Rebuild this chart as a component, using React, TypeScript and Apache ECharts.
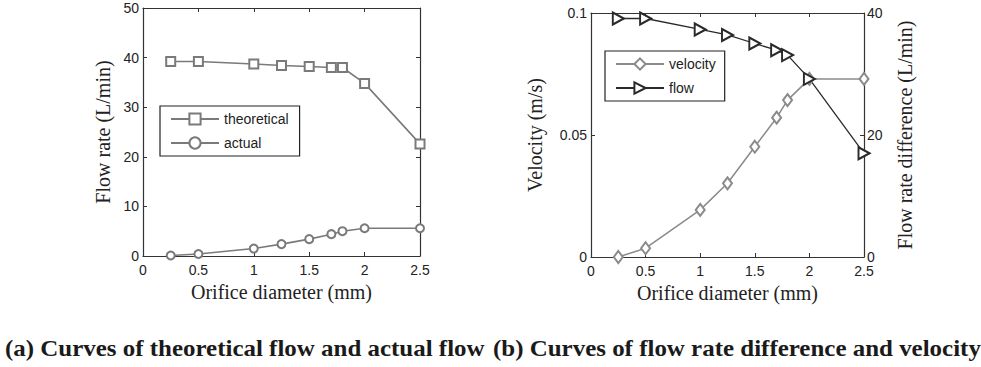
import React, { useEffect, useRef } from "react";
import * as echarts from "echarts";

const diameters = [0.25, 0.5, 1, 1.25, 1.5, 1.7, 1.8, 2, 2.5];
const theoretical = [39.2, 39.2, 38.7, 38.4, 38.2, 38.0, 38.0, 34.8, 22.6];
const actual = [0.1, 0.4, 1.5, 2.4, 3.4, 4.4, 5.0, 5.6, 5.6];
const velocity = [0.0, 0.0036, 0.0193, 0.0302, 0.0452, 0.0571, 0.0643, 0.073, 0.073];
const flowDiff = [39.1, 39.1, 37.3, 36.4, 35.0, 33.9, 33.1, 29.2, 17.0];

const xTicks = { min: 0, max: 2.5, interval: 0.5 };
const leftY = { min: 0, max: 50, interval: 10 };
const velY = { min: 0, max: 0.1, interval: 0.05 };
const flowY = { min: 0, max: 40, interval: 20 };

const captionA = "(a) Curves of theoretical flow and actual flow";
const captionB = "(b) Curves of flow rate difference and velocity";

const pair = (ys: number[]) => diameters.map((x, i) => [x, ys[i]]);

export default function App() {
  const ref = useRef<HTMLDivElement>(null);
  useEffect(() => {
    if (!ref.current) return;
    const chart = echarts.init(ref.current, undefined, { renderer: "svg" });
    const axisColor = "#333";
    const sans = "Liberation Sans";
    const serif = "Liberation Serif";
    const labelStyle = { color: "#222", fontFamily: sans, fontSize: 14 };
    const nameStyle = { color: "#222", fontFamily: serif, fontSize: 20 };
    const baseX = (grid: number, pos: string, labels: boolean) => ({
      type: "value",
      gridIndex: grid,
      position: pos,
      ...xTicks,
      axisLine: { show: true, onZero: false, lineStyle: { color: axisColor, width: 1.2 } },
      axisTick: { show: true, inside: true, length: 4, lineStyle: { color: axisColor } },
      axisLabel: { show: labels, margin: 7, ...labelStyle },
      splitLine: { show: false },
    });
    const baseY = (grid: number, pos: string, range: any, labels: boolean) => ({
      type: "value",
      gridIndex: grid,
      position: pos,
      ...range,
      axisLine: { show: true, onZero: false, lineStyle: { color: axisColor, width: 1.2 } },
      axisTick: { show: true, inside: true, length: 4, lineStyle: { color: axisColor } },
      axisLabel: { show: labels, margin: 4, ...labelStyle },
      splitLine: { show: false },
    });
    const option: any = {
      animation: false,
      backgroundColor: "#fff",
      grid: [
        { left: 143, top: 8, width: 277, height: 248 },
        { left: 591, top: 13, width: 273, height: 244 },
      ],
      xAxis: [
        {
          ...baseX(0, "bottom", true),
          name: "Orifice diameter (mm)",
          nameLocation: "middle",
          nameGap: 26,
          nameTextStyle: nameStyle,
        },
        baseX(0, "top", false),
        {
          ...baseX(1, "bottom", true),
          name: "Orifice diameter (mm)",
          nameLocation: "middle",
          nameGap: 26,
          nameTextStyle: nameStyle,
        },
        baseX(1, "top", false),
      ],
      yAxis: [
        {
          ...baseY(0, "left", leftY, true),
          name: "Flow rate (L/min)",
          nameLocation: "middle",
          nameRotate: 90,
          nameGap: 30,
          nameTextStyle: nameStyle,
        },
        baseY(0, "right", leftY, false),
        {
          ...baseY(1, "left", velY, true),
          name: "Velocity (m/s)",
          nameLocation: "middle",
          nameRotate: 90,
          nameGap: 46,
          nameTextStyle: nameStyle,
        },
        {
          ...baseY(1, "right", flowY, true),
          axisLabel: { show: true, margin: 3, padding: [0, 0, 3, 0], ...labelStyle },
          name: "Flow rate difference (L/min)",
          nameLocation: "middle",
          nameRotate: 90,
          nameGap: 31,
          nameTextStyle: nameStyle,
        },
      ],
      legend: [
        {
          data: ["theoretical", "actual"],
          orient: "vertical",
          left: 160,
          top: 106,
          itemWidth: 48,
          itemHeight: 14,
          itemGap: 10,
          padding: [6, 11, 6, 10],
          borderColor: "#222",
          borderWidth: 1.2,
          textStyle: { color: "#222", fontFamily: sans, fontSize: 14 },
        },
        {
          data: ["velocity", "flow"],
          orient: "vertical",
          left: 605,
          top: 51,
          itemWidth: 48,
          itemHeight: 14,
          itemGap: 10,
          padding: [6, 9, 6, 10],
          borderColor: "#222",
          borderWidth: 1.2,
          textStyle: { color: "#222", fontFamily: sans, fontSize: 14 },
        },
      ],
      series: [
        {
          name: "theoretical",
          type: "line",
          xAxisIndex: 0,
          yAxisIndex: 0,
          data: pair(theoretical),
          symbol: "emptyRect",
          symbolSize: 9,
          color: "#7a7a7a",
          lineStyle: { width: 1.6, color: "#7a7a7a" },
          itemStyle: { color: "#7a7a7a", borderWidth: 1.8 },
        },
        {
          name: "actual",
          type: "line",
          xAxisIndex: 0,
          yAxisIndex: 0,
          data: pair(actual),
          symbol: "emptyCircle",
          symbolSize: 8,
          color: "#7a7a7a",
          lineStyle: { width: 1.6, color: "#7a7a7a" },
          itemStyle: { color: "#7a7a7a", borderWidth: 1.6 },
        },
        {
          name: "velocity",
          type: "line",
          xAxisIndex: 2,
          yAxisIndex: 2,
          data: pair(velocity),
          symbol: "emptyDiamond",
          symbolSize: [9, 12],
          color: "#8a8a8a",
          lineStyle: { width: 1.5, color: "#8a8a8a" },
          itemStyle: { color: "#8a8a8a", borderWidth: 1.6 },
        },
        {
          name: "flow",
          type: "line",
          xAxisIndex: 2,
          yAxisIndex: 3,
          data: pair(flowDiff),
          symbol: "emptyTriangle",
          symbolRotate: -90,
          symbolSize: [12, 11],
          color: "#2a2a2a",
          lineStyle: { width: 1.3, color: "#2a2a2a" },
          itemStyle: { color: "#2a2a2a", borderWidth: 1.6 },
        },
      ],
      graphic: [
        {
          type: "text",
          x: 5,
          y: 337,
          scaleX: 1.085,
          style: { text: captionA, font: `bold 23px "${serif}"`, fill: "#1a1a1a" },
        },
        {
          type: "text",
          x: 493,
          y: 337,
          scaleX: 1.085,
          style: { text: captionB, font: `bold 23px "${serif}"`, fill: "#1a1a1a" },
        },
      ],
    };
    chart.setOption(option);
    return () => chart.dispose();
  }, []);
  return (
    <div
      ref={ref}
      style={{ position: "fixed", left: 0, top: 0, width: 981, height: 367, background: "#fff" }}
    />
  );
}
